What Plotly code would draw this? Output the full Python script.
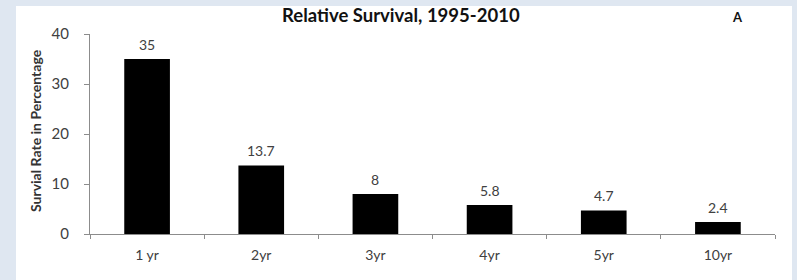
import plotly.graph_objects as go

categories = ["1 yr", "2yr", "3yr", "4yr", "5yr", "10yr"]
values = [35, 13.7, 8, 5.8, 4.7, 2.4]
value_labels = ["35", "13.7", "8", "5.8", "4.7", "2.4"]
y_ticks = [0, 10, 20, 30, 40]

W, H = 797, 280
L, R, T, B = 90, 22, 34, 46
pw, ph = W - L - R, H - T - B

def px(x):
    return (x - L) / pw

def py(y):
    return (H - B - y) / ph

font = "Lato, Open Sans, sans-serif"
txt = "#404040"

fig = go.Figure()
fig.add_trace(go.Bar(
    x=categories, y=values,
    marker=dict(color="black", line=dict(width=0)),
    hoverinfo="x+y",
))

annotations = [
    dict(text=lab, x=c, y=v, xref="x", yref="y", yshift=15, showarrow=False,
         xanchor="center", yanchor="middle",
         font=dict(family=font, size=14, color=txt))
    for c, v, lab in zip(categories, values, value_labels)
]
annotations += [
    dict(text="<b>Relative Survival, 1995-2010</b>", xref="paper", yref="paper",
         x=px(401), y=py(15), showarrow=False, xanchor="center", yanchor="middle",
         font=dict(family=font, size=18.5, color="#111111")),
    dict(text="<b>A</b>", xref="paper", yref="paper",
         x=px(737), y=py(17), showarrow=False, xanchor="center", yanchor="middle",
         font=dict(family=font, size=13, color="#111111")),
    dict(text="<b>Survial Rate in Percentage</b>", xref="paper", yref="paper",
         x=px(35), y=py(131), showarrow=False, textangle=-90,
         xanchor="center", yanchor="middle",
         font=dict(family=font, size=14, color="#333333")),
]

fig.update_layout(
    width=W, height=H,
    margin=dict(l=L, r=R, t=T, b=B, autoexpand=False),
    paper_bgcolor="#dfe7f1",
    plot_bgcolor="white",
    bargap=0.6,
    showlegend=False,
    shapes=[dict(type="rect", xref="paper", yref="paper",
                 x0=px(16), x1=px(792), y0=py(300), y1=py(6),
                 fillcolor="white", line=dict(width=0), layer="below")],
    annotations=annotations,
)

fig.update_xaxes(
    automargin=False,
    showline=True, linecolor="#8c8c8c", linewidth=1,
    ticks="outside", ticklen=4, tickcolor="#8c8c8c",
    tickson="boundaries", showgrid=False,
    ticklabelstandoff=8,
    tickfont=dict(family=font, size=14, color=txt),
)
fig.update_yaxes(
    automargin=False,
    range=[0, 40], tickvals=y_ticks,
    showline=True, linecolor="#8c8c8c", linewidth=1,
    ticks="outside", ticklen=5, tickcolor="#8c8c8c",
    showgrid=False, zeroline=False,
    ticklabelstandoff=12,
    tickfont=dict(family=font, size=15, color=txt),
)

fig.write_html(
    "out.html",
    config={"displayModeBar": False},
    post_script="document.body.style.margin='0';document.body.style.overflow='hidden';",
)
